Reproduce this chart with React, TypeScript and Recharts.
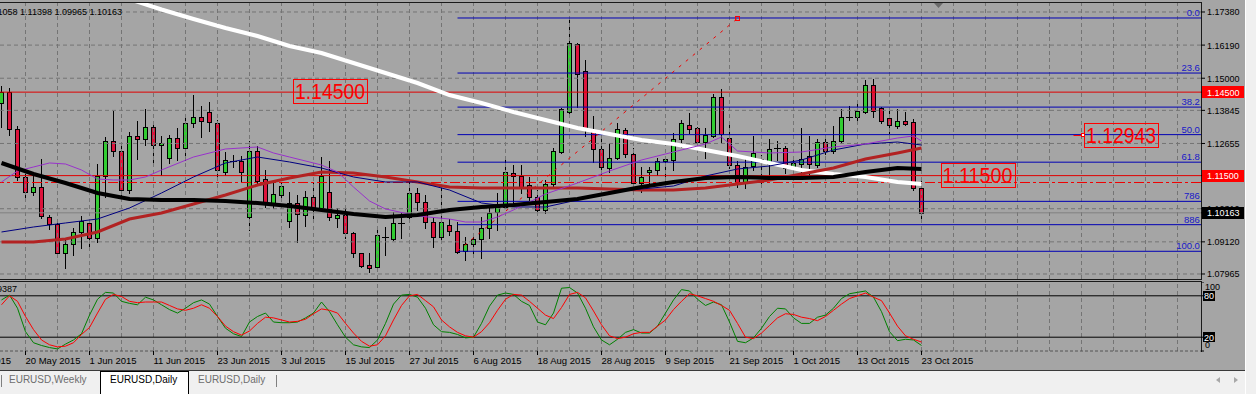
import React from 'react';
import { ComposedChart, Bar, Line, XAxis, YAxis, ReferenceLine, ReferenceDot } from 'recharts';

const FONT = '"Liberation Sans", Arial, sans-serif';
const BG = '#A5A5A5';
const GRID = '#747474';

// ---------- price data (daily EURUSD, bar 0 = 15 May 2015) ----------
const OPEN = [1.14110,1.14505,1.13175,1.11451,1.10912,1.11091,1.10013,1.09762,1.08719,1.09043,
1.09474,1.09798,1.09259,1.11486,1.12744,1.12385,1.10983,1.12924,1.12816,1.13247,
1.12600,1.12133,1.12852,1.12493,1.13391,1.13607,1.13786,1.13391,1.11630,1.12030,
1.12026,1.10013,1.12385,1.11379,1.10516,1.10804,1.09869,1.10516,1.10085,1.10732,
1.10337,1.10912,1.09977,1.10085,1.09438,1.08719,1.08288,1.08216,1.09294,1.09223,
1.09798,1.10013,1.10876,1.10552,1.09833,1.09294,1.09726,1.09510,1.08791,1.09043,
1.09223,1.09618,1.10193,1.10373,1.11594,1.11486,1.11163,1.10732,1.10265,1.11199,
1.12349,1.13786,1.16230,1.15260,1.13104,1.12457,1.11774,1.12133,1.13139,1.12277,
1.11235,1.11630,1.11702,1.12026,1.12061,1.12816,1.13319,1.13211,1.12708,1.12924,
1.14325,1.12852,1.11882,1.11271,1.11846,1.12097,1.11918,1.12493,1.12493,1.11774,
1.11918,1.12205,1.11882,1.12708,1.12385,1.12744,1.13607,1.13607,1.13786,1.14757,
1.13930,1.13571,1.13283,1.13463,1.13427,1.11058];
const HIGH = [1.14721,1.14649,1.13283,1.11630,1.11594,1.12097,1.10085,1.09798,1.09223,1.09618,
1.10049,1.09905,1.11918,1.12888,1.13822,1.12600,1.13068,1.13463,1.13894,1.13427,
1.12924,1.12960,1.13211,1.13607,1.14397,1.14002,1.14146,1.13499,1.12349,1.12241,
1.12205,1.12744,1.12565,1.11702,1.11235,1.11235,1.10912,1.10804,1.10947,1.11235,
1.12169,1.12026,1.10337,1.10301,1.09474,1.08719,1.08719,1.09654,1.09654,1.10193,
1.10157,1.11343,1.11055,1.10804,1.09977,1.11091,1.09941,1.09833,1.09294,1.09438,
1.10013,1.10373,1.10876,1.12133,1.11882,1.11882,1.11451,1.10983,1.11343,1.12493,
1.13930,1.17200,1.16266,1.15655,1.13643,1.12816,1.12672,1.13391,1.13211,1.12493,
1.11810,1.11810,1.12133,1.12133,1.13032,1.13499,1.13750,1.13247,1.13211,1.14433,
1.14613,1.13319,1.12026,1.12097,1.12924,1.12241,1.12816,1.12744,1.12565,1.12169,
1.13211,1.12924,1.12816,1.12888,1.13283,1.13894,1.14002,1.14110,1.14936,1.14972,
1.13966,1.13822,1.13894,1.13786,1.13535,1.11398];
const LOW = [1.13247,1.12960,1.11343,1.10588,1.10804,1.09977,1.09582,1.08576,1.08180,1.08648,
1.08899,1.08863,1.09115,1.10732,1.12205,1.10804,1.10876,1.12097,1.12600,1.11954,
1.11522,1.11954,1.12061,1.12061,1.13247,1.12888,1.13104,1.11343,1.11522,1.11810,
1.11271,1.09546,1.11163,1.10373,1.10337,1.10624,1.09654,1.09115,1.09690,1.09905,
1.10265,1.09905,1.09654,1.09259,1.08576,1.08216,1.08037,1.08073,1.08648,1.09187,
1.09259,1.09990,1.10265,1.09618,1.08935,1.09187,1.09366,1.08719,1.08468,1.08719,
1.08540,1.09259,1.09546,1.10337,1.10444,1.10876,1.10624,1.10157,1.10157,1.11055,
1.12313,1.13679,1.13966,1.12924,1.11990,1.11558,1.11630,1.12097,1.12169,1.10876,
1.10912,1.11235,1.11522,1.11271,1.11702,1.12529,1.13032,1.12600,1.12133,1.12888,
1.12708,1.11774,1.11091,1.11055,1.11702,1.11163,1.11522,1.12061,1.11594,1.11415,
1.11522,1.11522,1.11810,1.12277,1.12313,1.12672,1.13499,1.13427,1.13750,1.13607,
1.13391,1.13032,1.13211,1.13319,1.10983,1.09965];
const CLOSE = [1.14505,1.13175,1.11451,1.10912,1.11091,1.10049,1.09762,1.08719,1.09043,1.09474,
1.09869,1.09259,1.11486,1.12744,1.12385,1.10983,1.12924,1.12816,1.13247,1.12600,
1.12672,1.12852,1.12493,1.13391,1.13607,1.13463,1.13427,1.11702,1.12061,1.12020,
1.11630,1.12385,1.11307,1.10516,1.10840,1.11127,1.10516,1.10121,1.10732,1.10337,
1.11486,1.10013,1.10085,1.09438,1.08719,1.08252,1.08180,1.09366,1.09312,1.09798,
1.09815,1.10876,1.10552,1.09833,1.09294,1.09833,1.09510,1.08755,1.09043,1.09223,
1.09618,1.10157,1.10373,1.11630,1.11486,1.11055,1.10732,1.10265,1.11199,1.12385,
1.13894,1.16266,1.15152,1.13139,1.12457,1.11810,1.12133,1.13175,1.12277,1.11235,
1.11451,1.11702,1.12026,1.12097,1.12816,1.13391,1.13175,1.12708,1.12960,1.14325,
1.12996,1.11882,1.11271,1.11810,1.12313,1.11990,1.12457,1.12480,1.11774,1.11954,
1.12097,1.11918,1.12708,1.12385,1.12744,1.13607,1.13620,1.13822,1.14757,1.13822,
1.13463,1.13319,1.13463,1.13355,1.11055,1.10163];

// ---------- moving averages (read at sampled bars) ----------
const MA_BARS = [0,4,8,12,16,20,24,28,32,36,40,44,48,52,56,60,64,68,72,76,80,84,88,92,96,100,104,108,112,115];
const WHITE_MA = [1.19177,1.18835,1.18505,1.18170,1.17840,1.17470,1.17128,1.16805,1.16517,1.16158,1.15906,1.15547,1.15188,1.14828,1.14397,1.14110,1.13786,1.13499,1.13211,1.12996,1.12780,1.12636,1.12421,1.12205,1.11954,1.11702,1.11558,1.11451,1.11271,1.11199];
const BLACK_MA = [1.11954,1.11558,1.11235,1.10876,1.10660,1.10624,1.10624,1.10588,1.10516,1.10408,1.10265,1.10121,1.10013,1.10085,1.10265,1.10373,1.10444,1.10552,1.10660,1.10876,1.11091,1.11271,1.11415,1.11451,1.11415,1.11415,1.11451,1.11630,1.11774,1.11738];
const RED_MA = [1.09115,1.09115,1.09223,1.09474,1.09941,1.10157,1.10480,1.10804,1.11163,1.11415,1.11630,1.11594,1.11451,1.11271,1.11091,1.11055,1.11055,1.11055,1.11055,1.11019,1.10983,1.10983,1.11055,1.11199,1.11343,1.11558,1.11774,1.12097,1.12313,1.12493];
const NAVY_MA = [1.09474,1.09654,1.09798,1.09941,1.10337,1.10876,1.11451,1.11954,1.12169,1.11990,1.11774,1.11451,1.11271,1.11271,1.10983,1.10516,1.10373,1.10373,1.10624,1.10912,1.11019,1.11127,1.11486,1.11738,1.11846,1.12061,1.12421,1.12636,1.12708,1.12600];
const PURPLE_BARS = [0,2,4,6,8,10,12,14,16,18,20,24,28,32,34,36,40,42,44,46,48,52,56,58,60,62,64,68,72,76,80,84,88,90,92,96,100,104,108,112,114,115];
const PURPLE_MA = [1.11271,1.11666,1.11810,1.11954,1.11918,1.11702,1.11379,1.11343,1.11343,1.11451,1.11702,1.12169,1.12457,1.12529,1.12313,1.12169,1.11882,1.11630,1.11091,1.10588,1.10301,1.10049,1.09941,1.09833,1.09833,1.10013,1.10265,1.10840,1.11235,1.11666,1.12061,1.12349,1.12636,1.12888,1.12385,1.12313,1.12349,1.12529,1.12636,1.12852,1.12924,1.12744];

// ---------- stochastic ----------
const STOCH_K = [74,81,62,28,12,8,5,3,10,16,25,52,75,85,84,72,69,67,78,74,67,60,55,62,70,74,68,50,33,25,21,42,50,55,42,41,41,42,48,55,71,57,38,20,9,6,5,16,40,68,81,82,78,62,38,28,27,24,19,20,40,65,81,84,82,72,66,42,38,55,91,92,84,62,35,16,9,17,27,31,26,26,36,55,74,89,87,75,66,71,67,42,14,12,19,33,50,62,61,48,40,40,49,52,62,76,83,85,87,78,57,28,15,17,16,8];
const STOCH_D = [67,80,72,50,31,16,9,6,7,12,24,34,55,75,82,79,72,70,71,71,71,66,61,59,62,67,62,50,36,28,23,29,40,49,48,45,42,43,46,54,61,59,55,40,26,14,7,9,22,45,66,80,82,73,64,45,35,27,22,20,28,41,59,75,82,81,72,62,52,47,63,82,85,77,58,38,22,18,20,25,27,27,36,45,60,72,83,80,76,72,66,59,40,20,18,26,37,48,54,53,49,47,44,50,59,68,76,80,84,78,73,55,36,22,17,13];

// ---------- axes, levels, labels ----------
const LABEL_BARS = [-5,3,11,19,27,35,43,51,59,67,75,83,91,99,107,115];
const DATE_LABELS = ['8 May 2015','20 May 2015','1 Jun 2015','11 Jun 2015','23 Jun 2015','3 Jul 2015','15 Jul 2015','27 Jul 2015','6 Aug 2015','18 Aug 2015','28 Aug 2015','9 Sep 2015','21 Sep 2015','1 Oct 2015','13 Oct 2015','23 Oct 2015'];
const GRID_BARS = [3,7,11,15,19,23,27,31,35,39,43,47,51,55,59,63,67,71,75,79,83,87,91,95,99,103,107,111,115,119,123,127,131,135,139,143,147];
const PRICE_TICKS = [1.17380,1.16190,1.15000,1.13845,1.12655,1.10310,1.09120,1.07965];
const MARK_PRICES = [1.14500,1.11500,1.10163];
const MARK_COLORS = ['#FF0000','#FF0000','#000000'];
const FIB_LEVELS = [1.17164,1.15186,1.13962,1.12973,1.11983,1.10575,1.09737,1.08781];
const FIB_TEXT = ['0.0','23.6','38.2','50.0','61.8','786','886','100.0'];
const FIB_START_BAR = 57;
const FIB_TREND = [{ x: 57, y: 1.08781 }, { x: 92.06, y: 1.17164 }];
const DASHDOT_LEVEL = 1.11253;
const BOXES = [
  { bar: 41.06, price: 1.14541, text: '1.14500', marker: false },
  { bar: 139.94, price: 1.12943, text: '1.12943', marker: true },
  { bar: 122.0, price: 1.11522, text: '1.11500', marker: false },
];
const STOCH_TICKS = [0, 20, 80, 100];

const X_DOMAIN: [number, number] = [-0.1875, 149.9375];
const Y_DOMAIN: [number, number] = [1.07785, 1.17703];

const pick = (bars: number[], vals: number[], i: number) => {
  const k = bars.indexOf(i);
  return k >= 0 ? vals[k] : null;
};

const rows = OPEN.map((o, i) => ({
  i, o, h: HIGH[i], l: LOW[i], c: CLOSE[i], range: [LOW[i], HIGH[i]],
  white: pick(MA_BARS, WHITE_MA, i),
  black: pick(MA_BARS, BLACK_MA, i),
  red: pick(MA_BARS, RED_MA, i),
  navy: pick(MA_BARS, NAVY_MA, i),
  purple: pick(PURPLE_BARS, PURPLE_MA, i),
}));
const stochRows = STOCH_K.map((k, i) => ({ i, k, d: STOCH_D[i] }));

const Candle = (props: any) => {
  const { x, y, width, height, payload } = props;
  if (x == null || y == null) return null;
  const { o, h, l, c } = payload;
  const cx = Math.floor(x + width / 2) + 0.5;
  const span = h - l;
  const yOf = (p: number) => y + (span > 0 ? (height * (h - p)) / span : 0);
  const top = Math.round(yOf(Math.max(o, c)));
  const bot = Math.round(yOf(Math.min(o, c)));
  const yh = Math.round(yOf(h));
  const yl = Math.round(yOf(l));
  const fill = c >= o ? '#32CD32' : '#DC143C';
  const bh = bot - top;
  return (
    <g>
      <line x1={cx} x2={cx} y1={yh} y2={yl + 1} stroke="#000" strokeWidth={1} />
      {bh <= 1 ? (
        <rect x={cx - 3.5} y={top} width={7} height={1} fill="#000" />
      ) : (
        <g>
          <rect x={cx - 2.5} y={top} width={5} height={bh + 1} fill="#000" />
          <rect x={cx - 1.5} y={top + 1} width={3} height={bh - 1} fill={fill} />
        </g>
      )}
    </g>
  );
};

const PriceTick = (p: any) => {
  const { x, y, payload } = p;
  const v = payload.value as number;
  const m = MARK_PRICES.indexOf(v);
  const label = v.toFixed(5);
  if (m >= 0) {
    return (
      <g>
        <rect x={x - 5} y={Math.round(y) - 6} width={42} height={12} fill={MARK_COLORS[m]} />
        <text x={x} y={y + 3.5} fontSize={9} fill="#FFFFFF" fontFamily={FONT}>{label}</text>
      </g>
    );
  }
  return <text x={x} y={y + 3.5} fontSize={9} fill="#000" fontFamily={FONT}>{label}</text>;
};

const StochTick = (p: any) => {
  const { x, y, payload } = p;
  const v = payload.value as number;
  if (v === 100) return <text x={x} y={y + 8} fontSize={9} fill="#000" fontFamily={FONT}>100</text>;
  if (v === 0) return <text x={x} y={y - 3} fontSize={9} fill="#000" fontFamily={FONT}>0</text>;
  return (
    <g>
      <rect x={x - 2} y={Math.round(y) - 5} width={12} height={10} fill="#000" />
      <text x={x - 1} y={y + 3.5} fontSize={9} fill="#FFFFFF" fontFamily={FONT}>{String(v)}</text>
    </g>
  );
};

const DateTick = (p: any) => {
  const { x, y, payload } = p;
  const k = LABEL_BARS.indexOf(payload.value);
  if (k < 0) return null;
  const xx = Math.floor(x) + 0.5;
  return (
    <g>
      <line x1={xx} x2={xx} y1={y - 4} y2={y} stroke="#000" />
      <text x={xx} y={y + 8.5} fontSize={9.5} fill="#000" fontFamily={FONT}>{DATE_LABELS[k]}</text>
    </g>
  );
};

const boxShape = (text: string, marker: boolean) => (p: any) => {
  const { cx, cy } = p;
  const bx = Math.round(cx - 37) + 0.5;
  const by = Math.round(cy - 12) + 0.5;
  return (
    <g>
      {marker && (
        <g>
          <line x1={bx - 11} x2={bx - 3} y1={Math.round(cy) + 0.5} y2={Math.round(cy) + 0.5} stroke="#FF0000" />
          <rect x={bx - 3} y={Math.round(cy) - 1.5} width={3} height={3} fill="#fff" stroke="#FF0000" />
        </g>
      )}
      <rect x={bx} y={by} width={74} height={24} fill="none" stroke="#FF0000" />
      <text x={cx} y={cy + 8} textAnchor="middle" fontSize={22} fill="#FF0000" fontFamily={FONT}
        textLength={70} lengthAdjust="spacingAndGlyphs">{text}</text>
    </g>
  );
};

const fibLabelShape = (text: string) => (p: any) => (
  <text x={p.cx - 1} y={p.cy - 2} textAnchor="end" fontSize={9.5} fill="#1818C8" fontFamily={FONT}>{text}</text>
);

const endSquare = (p: any) => (
  <rect x={Math.round(p.cx) - 2.5} y={Math.round(p.cy) - 1.5} width={4} height={4} fill="none" stroke="#FF0000" />
);

const div = (s: React.CSSProperties) => <div style={{ position: 'absolute', ...s }} />;

export default function App() {
  return (
    <div style={{ position: 'absolute', left: 0, top: 0, width: 1256, height: 394, overflow: 'hidden', background: '#F0F0F0', fontFamily: FONT }}>
      {div({ left: 0, top: 0, width: 1245, height: 370, background: BG })}
      {div({ left: 0, top: 2, width: 1202, height: 1, background: '#1a1a1a' })}
      {div({ left: 0, top: 279, width: 1202, height: 1, background: '#1a1a1a' })}
      {div({ left: 0, top: 281, width: 1202, height: 1, background: '#1a1a1a' })}
      {div({ left: 1201, top: 2, width: 1, height: 278, background: '#1a1a1a' })}
      {div({ left: 1201, top: 281, width: 1, height: 71, background: '#1a1a1a' })}
      {div({ left: 1245, top: 0, width: 1, height: 394, background: '#FFFFFF' })}

      <div style={{ position: 'absolute', left: 0, top: 0 }}>
        <ComposedChart width={1256} height={279} data={rows} margin={{ top: 3, right: 0, bottom: 0, left: 0 }}>
          <XAxis type="number" dataKey="i" domain={X_DOMAIN} hide allowDataOverflow />
          <YAxis orientation="right" width={55} type="number" domain={Y_DOMAIN} allowDataOverflow
            ticks={[...PRICE_TICKS, ...MARK_PRICES]} interval={0} tick={<PriceTick />}
            tickSize={4} tickMargin={2} axisLine={false} tickLine={{ stroke: '#000' }} />
          {PRICE_TICKS.map((p) => (
            <ReferenceLine key={'hg' + p} y={p} stroke={GRID} strokeDasharray="4 3" />
          ))}
          {GRID_BARS.map((b) => (
            <ReferenceLine key={'vg' + b} x={b} stroke={GRID} strokeDasharray="4 3" />
          ))}
          {FIB_LEVELS.map((lv, k) => (
            <ReferenceLine key={'fib' + k} segment={[{ x: FIB_START_BAR, y: lv }, { x: X_DOMAIN[1], y: lv }]} stroke="#0000B4" strokeWidth={1} />
          ))}
          <ReferenceLine y={1.145} stroke="#E00000" />
          <ReferenceLine y={1.115} stroke="#E00000" />
          <ReferenceLine y={DASHDOT_LEVEL} stroke="#F00000" strokeDasharray="10 3 3 3" />
          <ReferenceLine y={CLOSE[CLOSE.length - 1]} stroke="#808080" />
          <ReferenceLine segment={FIB_TREND} stroke="#F00000" strokeDasharray="3 6" />
          <Bar dataKey="range" barSize={5} isAnimationActive={false} shape={(p: any) => <Candle {...p} />} />
          <Line type="linear" dataKey="white" stroke="#FFFFFF" strokeWidth={4} dot={false} connectNulls isAnimationActive={false} />
          <Line type="linear" dataKey="red" stroke="#B22222" strokeWidth={3} dot={false} connectNulls isAnimationActive={false} />
          <Line type="linear" dataKey="navy" stroke="#000080" strokeWidth={1} dot={false} connectNulls isAnimationActive={false} />
          <Line type="linear" dataKey="purple" stroke="#9932CC" strokeWidth={1} dot={false} connectNulls isAnimationActive={false} />
          <Line type="linear" dataKey="black" stroke="#000000" strokeWidth={4} dot={false} connectNulls isAnimationActive={false} />
          {FIB_LEVELS.map((lv, k) => (
            <ReferenceDot key={'fl' + k} x={X_DOMAIN[1] - 0.01} y={lv} r={0} shape={fibLabelShape(FIB_TEXT[k])} />
          ))}
          <ReferenceDot x={FIB_TREND[1].x} y={FIB_TREND[1].y} r={2} shape={endSquare} />
          {BOXES.map((b, k) => (
            <ReferenceDot key={'box' + k} x={b.bar} y={b.price} r={0} shape={boxShape(b.text, b.marker)} />
          ))}
        </ComposedChart>
      </div>

      <div style={{ position: 'absolute', left: 0, top: 282 }}>
        <ComposedChart width={1256} height={89} data={stochRows} margin={{ top: 0, right: 0, bottom: 0, left: 0 }}>
          <XAxis type="number" dataKey="i" domain={X_DOMAIN} allowDataOverflow ticks={LABEL_BARS} interval={0}
            height={20} tick={<DateTick />} tickLine={false} tickSize={4} tickMargin={0}
            axisLine={{ stroke: '#555555', strokeDasharray: '3 2' }} />
          <YAxis orientation="right" width={55} type="number" domain={[0, 100]} allowDataOverflow ticks={STOCH_TICKS}
            interval={0} tick={<StochTick />} tickSize={3} tickMargin={1} axisLine={false} tickLine={{ stroke: '#000' }} />
          {GRID_BARS.map((b) => (
            <ReferenceLine key={'svg' + b} x={b} stroke={GRID} strokeDasharray="4 3" />
          ))}
          <ReferenceLine y={80} stroke="#000" />
          <ReferenceLine y={20} stroke="#000" />
          <Line type="linear" dataKey="k" stroke="#008000" strokeWidth={1} dot={false} isAnimationActive={false} />
          <Line type="linear" dataKey="d" stroke="#FF0000" strokeWidth={1} dot={false} isAnimationActive={false} />
        </ComposedChart>
      </div>

      <svg width={1256} height={394} style={{ position: 'absolute', left: 0, top: 0, pointerEvents: 'none' }}>
        <text x={122} y={15} textAnchor="end" fontSize={9} fill="#000" fontFamily={FONT}>EURUSD,Daily  1.11058 1.11398 1.09965 1.10163</text>
        <text x={17} y={292} textAnchor="end" fontSize={9} fill="#000" fontFamily={FONT}>Stoch(5,3,3) 10.9387</text>
        <polygon points="934,3 943,3 938.5,8" fill="#6A6A6A" />
        <polygon points="1216,380 1220,377 1220,383" fill="#A8A8A8" />
        <polygon points="1238,380 1234,377 1234,383" fill="#A8A8A8" />
      </svg>

      {div({ left: 0, top: 370, width: 1245, height: 1, background: '#3a3a3a' })}
      <div style={{ position: 'absolute', left: 100, top: 371, width: 87, height: 23, background: '#FFFFFF', borderLeft: '1px solid #000', borderTop: '1px solid #000', borderRight: '1px solid #000' }} />
      {div({ left: 1, top: 375, width: 1, height: 12, background: '#808080' })}
      {div({ left: 276, top: 375, width: 1, height: 12, background: '#808080' })}
      <div style={{ position: 'absolute', left: 9, top: 374, fontSize: 10, color: '#6E6E6E', whiteSpace: 'nowrap', lineHeight: '12px' }}>EURUSD,Weekly</div>
      <div style={{ position: 'absolute', left: 110, top: 374, fontSize: 10, color: '#000', whiteSpace: 'nowrap', lineHeight: '12px' }}>EURUSD,Daily</div>
      <div style={{ position: 'absolute', left: 198, top: 374, fontSize: 10, color: '#6E6E6E', whiteSpace: 'nowrap', lineHeight: '12px' }}>EURUSD,Daily</div>
    </div>
  );
}
